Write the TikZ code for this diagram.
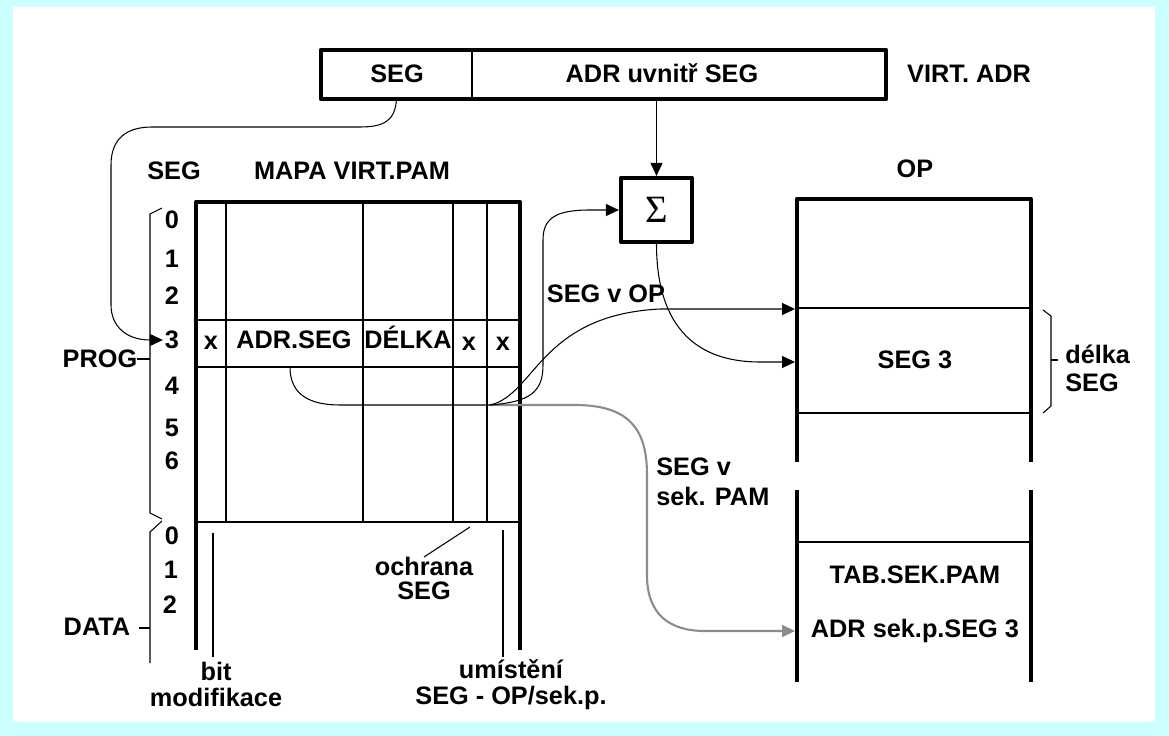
\documentclass[tikz,border=0pt]{standalone}
\usepackage{fontspec}
\setmainfont{Liberation Sans}
\newfontfamily\sigmafont{Liberation Serif}
\usetikzlibrary{arrows.meta}
\usepackage{xcolor}
\definecolor{Sky}{HTML}{CCFFFF}
\definecolor{Ink}{HTML}{000000}
\definecolor{Trail}{HTML}{8C8C8C}

\begin{document}
\begin{tikzpicture}[
        x=0.02cm, y=-0.02cm,
        lbl/.style={font=\fontsize{14.4}{14.8}\selectfont\bfseries, text=Ink, inner sep=1pt},
        note/.style={lbl, align=center, inner sep=0pt},
        frame/.style={draw=Ink, line width=2.4pt, line join=round},
        rowline/.style={draw=Ink, line width=1.1pt},
        colline/.style={draw=Ink, line width=0.6pt},
        wire/.style={draw=Ink, line width=0.6pt},
        arrow/.style={-{Triangle[length=0.26cm, width=0.24cm]}, draw=Ink, line width=0.6pt},
        grayarrow/.style={-{Triangle[length=0.26cm, width=0.24cm]}, draw=Trail, line width=1.2pt}
    ]
    % Background and margins
    \fill[Sky] (0,0) rectangle (1169,736);
    \fill[white] (13,7) rectangle (1155,722);
    \useasboundingbox (0,0) rectangle (1169,736);

    % Virtual address (top)
    \draw[frame] (321,50) rectangle (886,99);
    \draw[rowline] (472,50) -- (472,99);
    \node[lbl, minimum width=3.02cm, minimum height=0.98cm] (segf) at (396.5,74.5) {};
    \node[lbl, minimum width=8.28cm, minimum height=0.98cm] (adrf) at (679,74.5) {};
    \node[lbl, anchor=base] (segt) at (397,83) {SEG};
    \node[lbl, anchor=base] (adrt) at (662,83) {ADR uvnitř SEG};
    \node[lbl, anchor=base] (virt) at (969,83) {VIRT. ADR};

    % Adder
    \node[frame, minimum width=1.42cm, minimum height=1.28cm, inner sep=0pt,
        font=\sigmafont\fontsize{22}{24}\selectfont] (sum) at (656.5,210) {Σ};

    % Headings
    \node[lbl, anchor=base] (seghd) at (174,180) {SEG};
    \node[lbl, anchor=base] (maphd) at (352,180) {MAPA VIRT.PAM};
    \node[lbl, anchor=base] (ophd) at (915,178) {OP};

    % Segment map table
    \draw[frame] (196,650) -- (196,202) -- (520,202) -- (520,650);
    \draw[rowline] (196,320) -- (520,320);
    \draw[rowline] (196,367) -- (520,367);
    \draw[rowline] (196,522) -- (520,522);
    \draw[colline] (226,202) -- (226,522);
    \draw[colline] (363,202) -- (363,522);
    \draw[colline] (453,202) -- (453,522);
    \draw[colline] (487,202) -- (487,522);
    \node[lbl, anchor=base] (bx1) at (211,350) {x};
    \node[lbl, anchor=base] (adrseg) at (294,348) {ADR.SEG};
    \node[lbl, anchor=base] (delka) at (408,348) {DÉLKA};
    \node[lbl, anchor=base] (bx2) at (469,351) {x};
    \node[lbl, anchor=base] (bx3) at (503,351) {x};

    % Segment numbers
    \node[lbl] (p0) at (172,220) {0};
    \node[lbl] (p1) at (172,259) {1};
    \node[lbl] (p2) at (172,296) {2};
    \node[lbl] (p3) at (172,340) {3};
    \node[lbl] (p4) at (172,386) {4};
    \node[lbl] (p5) at (172,428) {5};
    \node[lbl] (p6) at (172,461) {6};
    \node[lbl] (q0) at (172,536) {0};
    \node[lbl] (q1) at (171,570) {1};
    \node[lbl] (q2) at (170,605) {2};

    % Braces PROG / DATA
    \node[lbl] (prog) at (100,359) {PROG};
    \node[lbl] (data) at (97,627) {DATA};
    \draw[wire] (162,208) -- (150,214) -- (150,513) -- (162,519);
    \draw[wire] (162,521) -- (150,532) -- (150,663);
    \draw[wire] (137,359) -- (150,359);
    \draw[wire] (139,628) -- (150,628);

    % Notes under the table
    \node[note, anchor=north] (bitm) at (216,662) {bit\\modifikace};
    \node[note, anchor=north] (ochr) at (424,557) {ochrana\\[-1.5pt]SEG};
    \node[note, anchor=north] (umist) at (511,659) {umístění\\SEG - OP/sek.p.};
    \draw[wire] (213,533) -- (213,657);
    \draw[wire] (470,527) -- (ochr.north);
    \draw[wire] (503,530) -- (503,657);

    % Main memory OP
    \draw[frame] (797,462) -- (797,199) -- (1031,199) -- (1031,462);
    \draw[rowline] (797,308) -- (1031,308);
    \draw[rowline] (797,413) -- (1031,413);
    \node[lbl, anchor=base] (seg3) at (915,368) {SEG 3};
    \draw[wire] (1043,310) -- (1051,316) -- (1051,406) -- (1043,413);
    \draw[wire] (1051,360) -- (1058,360);
    \node[note, align=left, anchor=north west] (dseg) at (1065,345) {délka\\[1pt]SEG};

    % Secondary memory table
    \draw[frame] (797,490) -- (797,682);
    \draw[frame] (1031,490) -- (1031,682);
    \draw[rowline] (797,542) -- (1031,542);
    \node[lbl, anchor=base] (tab) at (915,583) {TAB.SEK.PAM};
    \node[lbl, anchor=base] (sekadr) at (915,637) {ADR sek.p.SEG 3};

    % Arrow ends on the memory columns
    \coordinate (opA) at (795,309);
    \coordinate (opB) at (795,362);
    \coordinate (tabA) at (795,631);
    \coordinate (cellb) at (290,367);
    \coordinate (split) at (490,405);

    % Connectors
    \draw[arrow] (segf.south) .. controls (395,120) and (385,127) .. (360,127) -- (152,127)
        .. controls (125,127) and (111,140) .. (111,165) -- (111,305)
        .. controls (111,325) and (125,340) .. (p3.west);
    \draw[arrow] (adrf.south -| sum.north) -- (sum.north);
    \draw[wire] (cellb) .. controls (290,395) and (310,405) .. (340,405) -- (split);
    \draw[grayarrow] (split) -- (575,405) .. controls (630,405) and (647,430) .. (647,475) -- (647,575)
        .. controls (647,615) and (670,631) .. (705,631) -- (tabA);
    \draw[arrow] (split) .. controls (530,402) and (543,392) .. (543,365) -- (543,240)
        .. controls (543,218) and (556,210) .. (590,210) -- (sum.west);
    \draw[arrow] (split) .. controls (535,395) and (540,315) .. (660,309) -- (opA);
    \draw[arrow] (sum.south) .. controls (656.5,320) and (690,362) .. (760,362) -- (opB);

    % Connector labels
    \node[lbl, anchor=base] (inop) at (606,303) {SEG v OP};
    \node[note, align=left, anchor=north west] (insek) at (656,457) {SEG v\\[2.5pt]sek. PAM};
\end{tikzpicture}
\end{document}
